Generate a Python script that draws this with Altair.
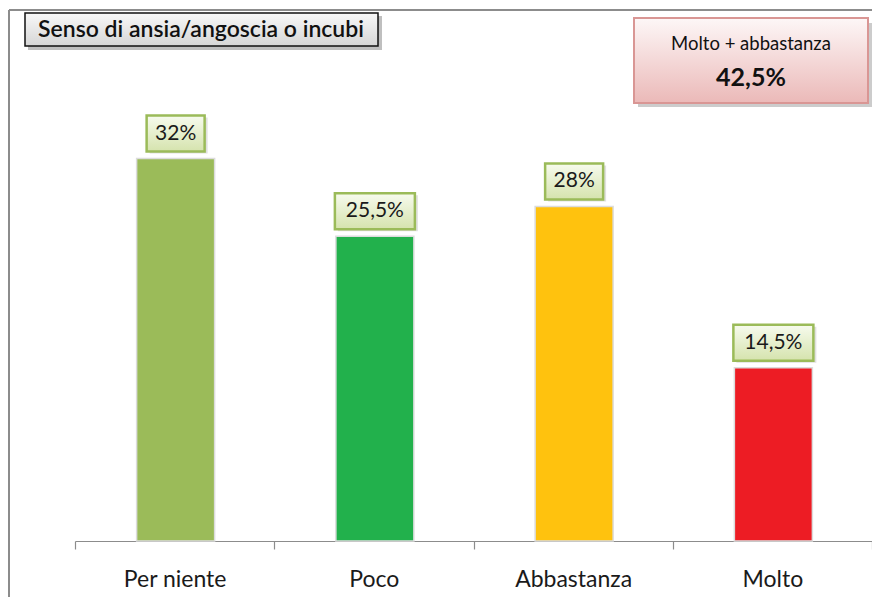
import altair as alt
import pandas as pd

categories = ["Per niente", "Poco", "Abbastanza", "Molto"]
values = [32, 25.5, 28, 14.5]
labels = ["32%", "25,5%", "28%", "14,5%"]
bar_colors = ["#9BBB59", "#22B14C", "#FFC20E", "#ED1C24"]

title_text = "Senso di ansia/angoscia o incubi"
summary_caption = "Molto + abbastanza"
summary_value = "42,5%"

FONT = "Lato"

df = pd.DataFrame({"cat": categories, "val": values, "lab": labels, "col": bar_colors})
base = alt.Chart(df)

xscale = alt.Scale(paddingInner=0, paddingOuter=0)
xenc = alt.X("cat:N", sort=categories, scale=xscale,
             axis=alt.Axis(title=None, labelAngle=0, tickBand="extent",
                           labelFont=FONT, labelFontSize=23, labelColor="#1a1a1a",
                           labelPadding=19, tickSize=8, tickColor="#8c8c8c",
                           domainColor="#8c8c8c", domainWidth=1.2, tickWidth=1.2,
                           grid=False))
xplain = alt.X("cat:N", sort=categories, scale=xscale)
yenc = alt.Y("val:Q", scale=alt.Scale(domain=[0, 40]), axis=None)

bars = base.mark_bar(width=78, stroke="#dcdcdc", strokeWidth=1.5, xOffset=1).encode(
    x=xenc, y=yenc,
    color=alt.Color("col:N", scale=None),
)

label_grad = alt.Gradient(
    gradient="linear", x1=0, x2=0, y1=0, y2=1,
    stops=[alt.GradientStop(color="#f7fbee", offset=0),
           alt.GradientStop(color="#d5e3ad", offset=1)])

def label_box(width, cond):
    shadow = base.transform_filter(cond).mark_bar(
        width=width, fill="#000000", opacity=0.12, yOffset=-5, y2Offset=-41, xOffset=4
    ).encode(x=xplain, y="val:Q", y2="val:Q")
    box = base.transform_filter(cond).mark_bar(
        width=width, fill=label_grad, stroke="#9BBB59", strokeWidth=2.5,
        yOffset=-7, y2Offset=-43, xOffset=1
    ).encode(x=xplain, y="val:Q", y2="val:Q")
    return shadow + box

short_boxes = label_box(58, "indexof(datum.lab, ',') < 0")
long_boxes = label_box(80, "indexof(datum.lab, ',') >= 0")

label_text = base.mark_text(font=FONT, fontSize=21, color="#1a1a1a", baseline="middle",
                            yOffset=-25, xOffset=1).encode(
    x=xplain, y="val:Q", text="lab:N")

# Frame lines (decoration)
one = alt.Data(values=[{"a": 1}])
frame_left = alt.Chart(one).mark_rule(color="#8c8c8c", strokeWidth=2).encode(
    x=alt.value(-66), y=alt.value(-53), y2=alt.value(540))
frame_top = alt.Chart(one).mark_rule(color="#8c8c8c", strokeWidth=2).encode(
    x=alt.value(-66), x2=alt.value(800), y=alt.value(-53))

# Title box
title_grad = alt.Gradient(
    gradient="linear", x1=0, x2=0, y1=0, y2=1,
    stops=[alt.GradientStop(color="#f8f8f8", offset=0),
           alt.GradientStop(color="#d6d6d6", offset=1)])
title_shadow = alt.Chart(one).mark_rect(fill="#000000", opacity=0.25).encode(
    x=alt.value(-47), x2=alt.value(307), y=alt.value(-47), y2=alt.value(-13))
title_box = alt.Chart(one).mark_rect(fill=title_grad, stroke="#111111", strokeWidth=1.5).encode(
    x=alt.value(-50), x2=alt.value(303), y=alt.value(-50), y2=alt.value(-17))
title_txt = alt.Chart(alt.Data(values=[{"t": title_text}])).mark_text(
    font=FONT, fontSize=23, fontWeight=600, color="#111111", baseline="middle", align="center"
).encode(x=alt.value(126), y=alt.value(-33), text="t:N")

# Summary box
sum_grad = alt.Gradient(
    gradient="linear", x1=0, x2=0, y1=0, y2=1,
    stops=[alt.GradientStop(color="#fdf7f7", offset=0),
           alt.GradientStop(color="#ebb9b8", offset=1)])
sum_shadow = alt.Chart(one).mark_rect(fill="#000000", opacity=0.2).encode(
    x=alt.value(563), x2=alt.value(797), y=alt.value(-40), y2=alt.value(44))
sum_box = alt.Chart(one).mark_rect(fill=sum_grad, stroke="#d99694", strokeWidth=2).encode(
    x=alt.value(559), x2=alt.value(793), y=alt.value(-45), y2=alt.value(40))
sum_cap = alt.Chart(alt.Data(values=[{"t": summary_caption}])).mark_text(
    font=FONT, fontSize=18.5, color="#111111", baseline="middle", align="center"
).encode(x=alt.value(676), y=alt.value(-19), text="t:N")
sum_val = alt.Chart(alt.Data(values=[{"t": summary_value}])).mark_text(
    font=FONT, fontSize=25, fontWeight="bold", color="#111111", baseline="middle", align="center"
).encode(x=alt.value(676), y=alt.value(15), text="t:N")

chart = alt.layer(
    frame_left, frame_top,
    bars, short_boxes, long_boxes, label_text,
    title_shadow, title_box, title_txt,
    sum_shadow, sum_box, sum_cap, sum_val,
).properties(
    width=797, height=478,
    padding={"left": 75, "top": 63, "right": 0, "bottom": 56},
    autosize=alt.AutoSizeParams(type="none"),
    background="#ffffff",
).configure_view(stroke=None)

chart.save("out.html", embed_options={"renderer": "svg", "actions": False})
